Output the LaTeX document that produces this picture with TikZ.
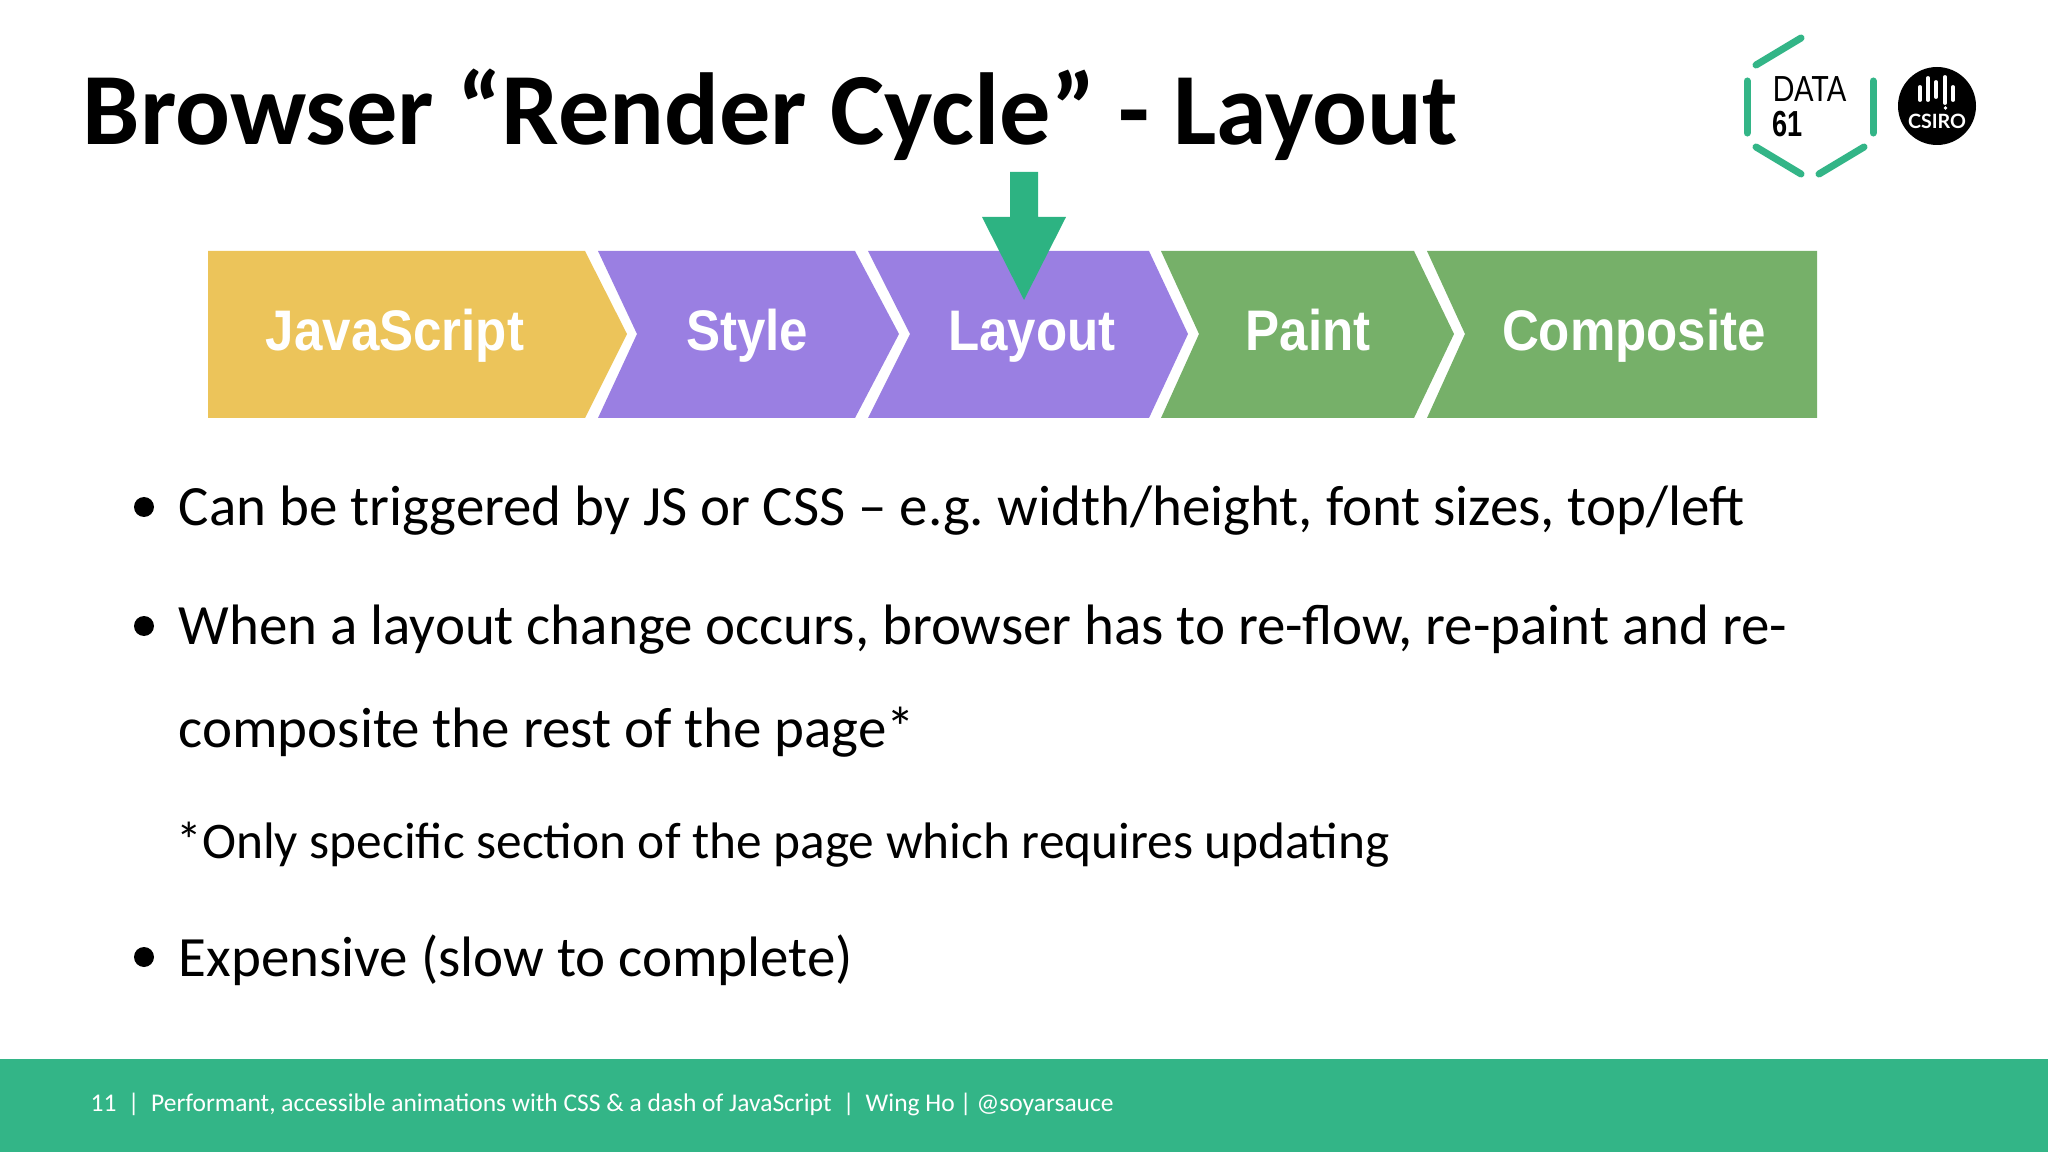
\documentclass[tikz,border=0pt]{standalone}
\usepackage{graphicx}
\usepackage{fontspec}
\setmainfont{Carlito}
\newfontfamily\chevronfont{Liberation Sans}
\newfontfamily\logofont{Lato}
\usetikzlibrary{calc}
\definecolor{dataGreen}{HTML}{33B587}
\definecolor{arrowGreen}{HTML}{2DB382}
\definecolor{jsYellow}{HTML}{ECC45A}
\definecolor{stylePurple}{HTML}{9A7FE2}
\definecolor{paintGreen}{HTML}{76B069}
\newcommand{\chevronText}[1]{\scalebox{0.955}[1.07]{#1}}
\tikzset{
	bodyText/.style={anchor=base west, inner sep=0pt, font=\fontsize{16.2}{18}\selectfont},
	chevronLabel/.style={anchor=base, text=white, inner sep=0pt, font=\chevronfont\bfseries\fontsize{15.2}{17}\selectfont},
	logoStroke/.style={dataGreen, line width=2pt, line cap=round}
}
\begin{document}
\begin{tikzpicture}[x=0.01cm, y=-0.01cm]

	\useasboundingbox (0,0) rectangle (2048,1152);

	% title
	\node [anchor=base west, inner sep=0pt, font=\bfseries\fontsize{29.1}{32}\selectfont] (title) at (82,145) {Browser “Render Cycle” - Layout};

	% chevrons
	\def \chevronTop {251};
	\def \chevronBottom {418};
	\def \chevronMid {334};
	\fill [jsYellow] (208,\chevronTop) -- (585,\chevronTop) -- (627,\chevronMid) -- (585,\chevronBottom) -- (208,\chevronBottom) -- cycle;
	\fill [stylePurple] (598,\chevronTop) -- (855,\chevronTop) -- (899,\chevronMid) -- (855,\chevronBottom) -- (598,\chevronBottom) -- (637,\chevronMid) -- cycle;
	\fill [stylePurple] (868,\chevronTop) -- (1149,\chevronTop) -- (1188,\chevronMid) -- (1149,\chevronBottom) -- (868,\chevronBottom) -- (910,\chevronMid) -- cycle;
	\fill [paintGreen] (1161,\chevronTop) -- (1414,\chevronTop) -- (1454,\chevronMid) -- (1414,\chevronBottom) -- (1161,\chevronBottom) -- (1199,\chevronMid) -- cycle;
	\fill [paintGreen] (1427,\chevronTop) -- (1817,\chevronTop) -- (1817,\chevronBottom) -- (1427,\chevronBottom) -- (1465,\chevronMid) -- cycle;

	% chevron labels
	\def \labelBase {351};
	\node [chevronLabel] (javascript) at (395,\labelBase) {\chevronText{JavaScript}};
	\node [chevronLabel] (style) at (747,\labelBase) {\chevronText{Style}};
	\node [chevronLabel] (layout) at (1032,\labelBase) {\chevronText{Layout}};
	\node [chevronLabel] (paint) at (1308,\labelBase) {\chevronText{Paint}};
	\node [chevronLabel] (composite) at (1634,\labelBase) {\chevronText{Composite}};

	% arrow over the layout step
	\fill [arrowGreen] (1010,172) -- (1038,172) -- (1038,217) -- (1066,217) -- (1024,300) -- (982,217) -- (1010,217) -- cycle;

	% bullets
	\foreach \bulletY in {507,626,957} {
		\fill (144,\bulletY) circle (10);
	}
	\node [bodyText] (triggered) at (178,526) {Can be triggered by JS or CSS – e.g.\hspace{-1.1pt} width/height, font sizes, top/left};
	\node [bodyText] (change) at (178,644) {When a layout change occurs, browser has to re-flow, re-paint and re-};
	\node [bodyText] (composited) at (178,747) {composite the rest of the page*};
	\node [bodyText, font=\fontsize{14.6}{16}\selectfont] (note) at (176,858) {*Only specific section of the page which requires updating};
	\node [bodyText] (expensive) at (178,976) {Expensive (slow to complete)};

	% footer
	\fill [dataGreen] (0,1059) rectangle (2048,1152);
	\node [anchor=base west, inner sep=0pt, text=white, font=\fontsize{7.25}{9}\selectfont] (footer) at (90,1111) {11\hspace{3.25pt}|\hspace{3.25pt}Performant, accessible animations with CSS \& a dash of JavaScript\hspace{3.2pt}|\hspace{3.2pt}Wing Ho\hspace{-0.2pt} | \hspace{-0.2pt}@soyarsauce};

	% hexagon of the logo
	\draw [logoStroke] (1756,65) -- (1801,38);
	\draw [logoStroke] (1747,81) -- (1747,133);
	\draw [logoStroke] (1873,81) -- (1873,133);
	\draw [logoStroke] (1756,147) -- (1801,174);
	\draw [logoStroke] (1819,174) -- (1864,147);
	\node [anchor=base west, inner sep=0pt, font=\logofont\fontsize{9.9}{11}\selectfont] (data) at (1772,102) {\scalebox{0.83}[1]{DATA}};
	\node [anchor=base west, inner sep=0pt, font=\chevronfont\bfseries\fontsize{10.3}{11}\selectfont] (sixtyOne) at (1772,137) {\scalebox{0.75}[1]{61}};

	% round badge
	\coordinate (badgeCentre) at (1937,106);
	\fill (badgeCentre) circle (39);
	\foreach \barX/\barTop/\barBottom in {1920/87/100, 1928/78/100, 1936/82/97, 1945/77/103, 1953/87/100} {
		\draw [white, line width=1.1pt, line cap=round] (\barX,\barTop) -- (\barX,\barBottom);
	}
	\fill [white] (1945.5,108) circle (1.8);
	\node [text=white, inner sep=0pt, font=\logofont\bfseries\fontsize{5.6}{6}\selectfont] (csiro) at (1937,121) {CSIRO};

\end{tikzpicture}
\end{document}
